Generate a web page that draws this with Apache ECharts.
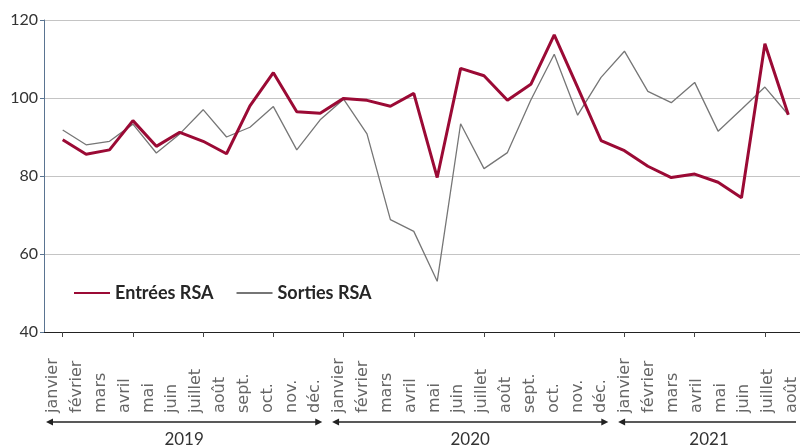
<!DOCTYPE html>
<html>
<head>
<meta charset="utf-8">
<script src="https://cdn.jsdelivr.net/npm/echarts@6/dist/echarts.min.js"></script>
<style>
  html, body { margin: 0; padding: 0; background: #fff; }
  #main { width: 800px; height: 448px; }
</style>
</head>
<body>
<div id="main"></div>
<script>
  // mois affichés sous l'axe
  var mois = ['janvier', 'février', 'mars', 'avril', 'mai', 'juin', 'juillet', 'août', 'sept.', 'oct.', 'nov.', 'déc.'];
  var annees = ['2019', '2020', '2021'];
  var moisParAnnee = [12, 12, 8];

  // indices (base 100)
  var entrees = [89.3, 85.6, 86.7, 94.2, 87.6, 91.2, 88.9, 85.7, 98.0, 106.5, 96.5, 96.1,
                 99.9, 99.4, 97.9, 101.2, 79.6, 107.6, 105.7, 99.4, 103.5, 116.2, 102.7, 89.1,
                 86.5, 82.5, 79.6, 80.5, 78.4, 74.4, 113.9, 95.7];
  var sorties = [91.8, 88.0, 88.9, 93.3, 85.9, 90.8, 97.0, 90.0, 92.5, 97.8, 86.7, 94.4,
                 99.7, 90.8, 68.8, 65.8, 53.0, 93.4, 81.9, 86.0, 99.5, 111.2, 95.6, 105.3,
                 112.0, 101.7, 98.8, 104.0, 91.5, 97.1, 102.8, 95.7];

  var yTicks = [40, 60, 80, 100, 120];

  var cles = [], libelles = [];
  annees.forEach(function (a, i) {
    for (var m = 0; m < moisParAnnee[i]; m++) {
      cles.push(a + '-' + (m + 1));
      libelles.push(mois[m]);
    }
  });

  var police = 'Lato';
  var rouge = '#9b0a35';
  var gris = '#767676';

  var myChart = echarts.init(document.getElementById('main'));
  var option = {
    backgroundColor: '#fff',
    animation: false,
    textStyle: { fontFamily: police },
    legend: {
      left: 68, top: 279,
      itemWidth: 36, itemHeight: 14, itemGap: 22,
      itemStyle: { opacity: 0 },
      textStyle: { fontFamily: police, fontSize: 18, fontWeight: 'bold', color: '#262626' },
      data: ['Entrées RSA', 'Sorties RSA']
    },
    grid: [
      { left: 44, right: 0, top: 20, bottom: 116 },
      { left: 62.7, right: 11.7, top: 20, bottom: 116 },
      { left: 53, right: 3, top: 20, bottom: 116 }
    ],
    xAxis: [
      { gridIndex: 0, type: 'value', min: 0, max: 1,
        axisLine: { show: true, lineStyle: { color: '#222', width: 1 } },
        axisTick: { show: false }, axisLabel: { show: false }, splitLine: { show: false } },
      { gridIndex: 1, type: 'category', data: cles, boundaryGap: false,
        axisLine: { show: false },
        axisTick: { show: true, length: 5, lineStyle: { color: '#444' } },
        axisLabel: { show: false }, splitLine: { show: false } },
      { gridIndex: 2, type: 'category', data: cles, boundaryGap: false,
        axisLine: { show: false }, axisTick: { show: false }, splitLine: { show: false },
        axisLabel: {
          interval: 0, rotate: 90, align: 'left', verticalAlign: 'middle', margin: 81,
          fontFamily: 'DejaVu Sans', fontSize: 16, color: '#666',
          formatter: function (v, i) { return libelles[i]; }
        } }
    ],
    yAxis: [
      { gridIndex: 0, type: 'value', min: yTicks[0], max: yTicks[yTicks.length - 1], interval: 20,
        axisLine: { show: true, lineStyle: { color: '#5a7491', width: 1 } },
        axisTick: { show: true, length: 4, lineStyle: { color: '#5a7491' } },
        axisLabel: { fontFamily: police, fontSize: 16, color: '#333', margin: 6 },
        splitLine: { show: true, lineStyle: { color: '#c4c4c4', width: 1 } } },
      { gridIndex: 1, type: 'value', min: 40, max: 120, show: false },
      { gridIndex: 2, type: 'value', min: 40, max: 120, show: false }
    ],
    series: [
      { name: 'Sorties RSA', type: 'line', xAxisIndex: 1, yAxisIndex: 1, data: sorties,
        symbol: 'none', z: 2, lineStyle: { color: gris, width: 1.3 }, itemStyle: { color: gris } },
      { name: 'Entrées RSA', type: 'line', xAxisIndex: 1, yAxisIndex: 1, data: entrees,
        symbol: 'none', z: 3, lineStyle: { color: rouge, width: 3 }, itemStyle: { color: rouge } }
    ]
  };
  myChart.setOption(option);

  // flèches des années sous les mois
  var yFleche = 422, graphiques = [], debut = 0;
  annees.forEach(function (a, i) {
    var x1 = myChart.convertToPixel({ xAxisIndex: 2 }, debut) - 7;
    var x2 = i === annees.length - 1 ? 800 : myChart.convertToPixel({ xAxisIndex: 2 }, debut + moisParAnnee[i] - 1) + 7;
    graphiques.push({ type: 'line', shape: { x1: x1 + 4, y1: yFleche, x2: x2 - 4, y2: yFleche },
      style: { stroke: '#222', lineWidth: 1.3 } });
    graphiques.push({ type: 'polygon', shape: { points: [[x1, yFleche], [x1 + 7, yFleche - 3.5], [x1 + 7, yFleche + 3.5]] },
      style: { fill: '#222' } });
    if (i !== annees.length - 1) {
      graphiques.push({ type: 'polygon', shape: { points: [[x2, yFleche], [x2 - 7, yFleche - 3.5], [x2 - 7, yFleche + 3.5]] },
        style: { fill: '#222' } });
    }
    graphiques.push({ type: 'text', x: (x1 + x2) / 2, y: 440,
      style: { text: a, fontFamily: police, fontSize: 17, fill: '#333', align: 'center', verticalAlign: 'middle' } });
    debut += moisParAnnee[i];
  });
  myChart.setOption({ graphic: graphiques });
</script>
</body>
</html>
